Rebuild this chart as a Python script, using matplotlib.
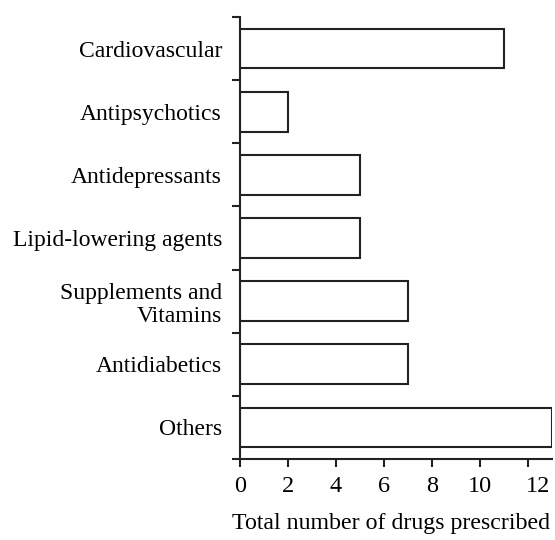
import matplotlib
matplotlib.use("Agg")
import matplotlib.pyplot as plt
import matplotlib.transforms as mtransforms
import numpy as np

categories = ["Cardiovascular", "Antipsychotics", "Antidepressants",
              "Lipid-lowering agents", "Supplements and\nVitamins",
              "Antidiabetics", "Others"]
values = [11, 2, 5, 5, 7, 7, 13]
xticks = [0, 2, 4, 6, 8, 10, 12]
xlabel = "Total number of drugs prescribed"

plt.rcParams['font.family'] = ['Liberation Serif', 'DejaVu Serif']

fig = plt.figure(figsize=(5.55, 5.4), dpi=100)
ax = fig.add_axes([240/555, 1-459/540, (552-240)/555, (459-17)/540])

n = len(categories)
ypos = np.arange(n)[::-1]
ax.barh(ypos, values, height=0.63, color="white", edgecolor="#222222", linewidth=1.5)

ax.set_ylim(-0.5, n-0.5)
ax.set_xlim(0, 13)
ax.set_xticks(xticks)
ax.set_xticklabels([str(t) for t in xticks], fontsize=17.5)
ax.set_yticks(ypos)
ax.set_yticklabels(categories, fontsize=17, linespacing=1.15)
ax.tick_params(axis='y', length=0, pad=13)
ax.set_yticks(np.arange(n+1) - 0.5, minor=True)
ax.tick_params(axis='y', which='minor', length=6, width=1.5, color="#222222")
ax.tick_params(axis='x', length=6, width=1.5, color="#222222", pad=6)
for s in ['top', 'right']:
    ax.spines[s].set_visible(False)
for s in ['left', 'bottom']:
    ax.spines[s].set_linewidth(1.5)
    ax.spines[s].set_color("#222222")
ax.set_xlabel(xlabel, fontsize=17.2, labelpad=12)
ax.xaxis.label.set_x((391 - 240) / 312)

# last tick label sits slightly right of its tick in the reference
last = ax.get_xticklabels()[-1]
last.set_transform(last.get_transform() + mtransforms.ScaledTranslation(10/100, 0, fig.dpi_scale_trans))

fig.savefig("out.png", dpi=100)
